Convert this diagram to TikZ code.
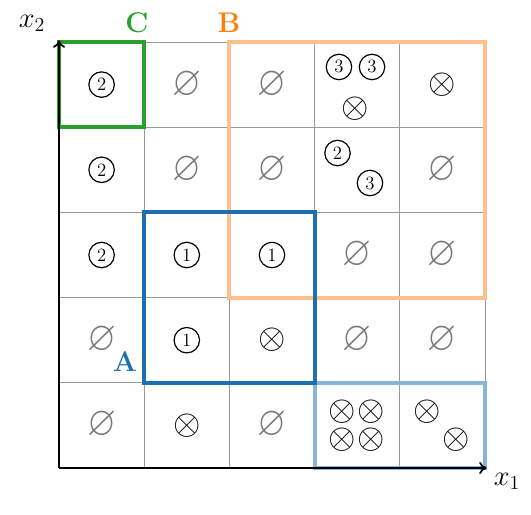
\RequirePackage{fix-cm}
\documentclass[tikz,border=0pt]{standalone}
\usepackage{amssymb}
\usepackage{graphicx}
\usetikzlibrary{arrows.meta}
\definecolor{cgreen}{HTML}{2CA02C}
\definecolor{corange}{HTML}{FF7F0E}
\definecolor{corangebox}{HTML}{FFC18C}
\definecolor{cblue}{HTML}{1F6EAD}
\definecolor{clightblue}{HTML}{86B5D7}
\definecolor{gridgray}{HTML}{9A9A9A}
\definecolor{emptygray}{HTML}{787878}
\newcommand{\emptysym}{\scalebox{1}[1.12]{$\varnothing$}}
\begin{document}
\begin{tikzpicture}[x=2cm,y=2cm,
  gridline/.style={draw=gridgray,line width=0.6pt},
  regionbox/.style={line width=2.7pt},
  axisline/.style={line width=1.2pt,-{To[length=5pt,width=8pt]}},
  num/.style={circle,draw,line width=0.8pt,inner sep=0pt,minimum size=17pt,font=\fontsize{12.5}{12.5}\selectfont},
  cross/.style={inner sep=0pt,font=\fontsize{23.5}{24}\selectfont},
  emptyset/.style={inner sep=0pt,text=emptygray,font=\fontsize{24.88}{25}\selectfont},
  axislabel/.style={inner sep=0pt,anchor=base,font=\fontsize{19}{19}\selectfont},
  regionlabel/.style={inner sep=0pt,anchor=base,font=\fontsize{19}{19}\selectfont\bfseries}]
\useasboundingbox (-0.6925,-0.5516) rectangle (5.540,5.493);
% grid
\draw[gridline,step=2cm] (0,0) grid (5,5);
% row 4 (top)
\node[num] (c04) at (0.5,4.5) {2};
\node[emptyset] (c14) at (1.5,4.5) {\emptysym};
\node[emptyset] (c24) at (2.5,4.5) {\emptysym};
\node[num] (c34a) at (3.286,4.707) {3};
\node[num] (c34b) at (3.674,4.707) {3};
\node[cross] (c34c) at (3.474,4.214) {$\otimes$};
\node[cross] (c44) at (4.5,4.5) {$\otimes$};
% row 3
\node[num] (c03) at (0.5,3.5) {2};
\node[emptyset] (c13) at (1.5,3.5) {\emptysym};
\node[emptyset] (c23) at (2.5,3.5) {\emptysym};
\node[num] (c33a) at (3.269,3.697) {2};
\node[num] (c33b) at (3.650,3.345) {3};
\node[emptyset] (c43) at (4.5,3.5) {\emptysym};
% row 2
\node[num] (c02) at (0.5,2.5) {2};
\node[num] (c12) at (1.5,2.5) {1};
\node[num] (c22) at (2.5,2.5) {1};
\node[emptyset] (c32) at (3.5,2.5) {\emptysym};
\node[emptyset] (c42) at (4.5,2.5) {\emptysym};
% row 1
\node[emptyset] (c01) at (0.5,1.5) {\emptysym};
\node[num] (c11) at (1.5,1.5) {1};
\node[cross] (c21) at (2.5,1.5) {$\otimes$};
\node[emptyset] (c31) at (3.5,1.5) {\emptysym};
\node[emptyset] (c41) at (4.5,1.5) {\emptysym};
% row 0
\node[emptyset] (c00) at (0.5,0.5) {\emptysym};
\node[cross] (c10) at (1.5,0.5) {$\otimes$};
\node[emptyset] (c20) at (2.5,0.5) {\emptysym};
\node[cross] (c30a) at (3.322,0.663) {$\otimes$};
\node[cross] (c30b) at (3.662,0.663) {$\otimes$};
\node[cross] (c30c) at (3.322,0.329) {$\otimes$};
\node[cross] (c30d) at (3.662,0.329) {$\otimes$};
\node[cross] (c40a) at (4.319,0.663) {$\otimes$};
\node[cross] (c40b) at (4.660,0.329) {$\otimes$};
% region boxes
\draw[regionbox,corangebox] (2,2) rectangle (5,5);
\draw[regionbox,clightblue] (3,0) rectangle (5,1);
\draw[regionbox,cgreen] (0,4) rectangle (1,5);
\draw[regionbox,cblue] (1,1) rectangle (3,3);
% axes
\coordinate (O) at (0,0);
\coordinate (X) at (5.02,0);
\coordinate (Y) at (0,5.02);
\draw[axisline] (O) -- (X);
\draw[axisline] (O) -- (Y);
% labels
\node[axislabel] (lx2) at (-0.317,5.176) {$x_2$};
\node[axislabel] (lx1) at (5.258,-0.2) {$x_1$};
\node[regionlabel,text=cgreen] (lC) at (0.915,5.117) {C};
\node[regionlabel,text=corange] (lB) at (1.995,5.117) {B};
\node[regionlabel,text=cblue] (lA) at (0.775,1.127) {A};
\end{tikzpicture}
\end{document}
